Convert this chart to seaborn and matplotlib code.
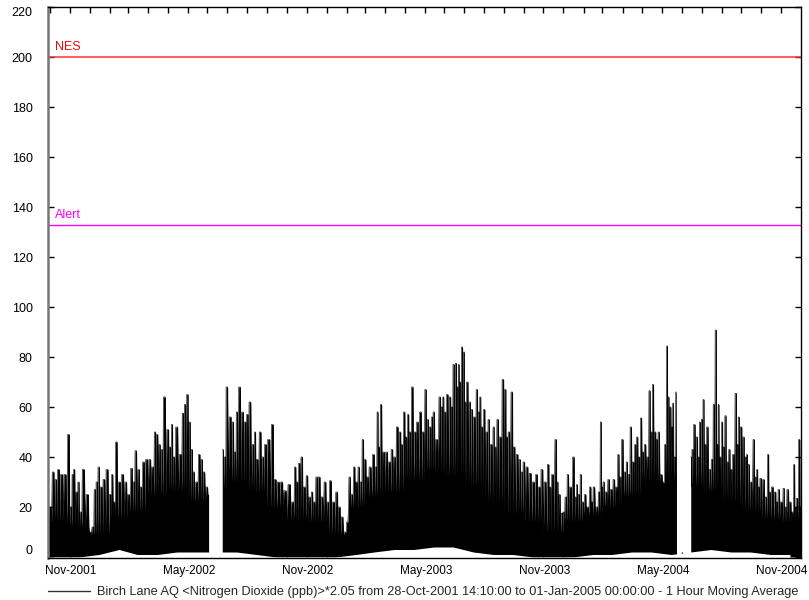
import numpy as np
import pandas as pd
import matplotlib
matplotlib.use("Agg")
import matplotlib.pyplot as plt
import matplotlib.transforms as mtransforms
from matplotlib.lines import Line2D
import seaborn as sns

# ---------------------------------------------------------------- data
series_start = pd.Timestamp("2001-10-28 14:10")
series_end = pd.Timestamp("2005-01-01 00:00")

# Hourly NO2 spikes: day offset from series start and peak value (ppb)
spike_day = [
    0, 3, 8, 12, 16, 21, 26, 32, 35, 38, 40, 44, 47, 50, 54, 61, 65, 69, 72, 75,
    78, 82, 86, 91, 96, 99, 102, 105, 110, 115, 120, 124, 129, 132, 135, 140, 143, 147, 152, 157,
    161, 165, 168, 172, 175, 179, 185, 188, 191, 194, 198, 204, 208, 211, 215, 218, 222, 224, 229, 233,
    237, 240, 245, 247,
    269, 273, 275, 281, 285, 288, 291, 295, 300, 304, 307, 311, 316, 319, 322, 327, 331, 335, 340, 346,
    350, 355, 360, 365, 372, 377, 381, 384, 387, 391, 395, 399, 403, 407, 410, 414, 418, 422, 427, 431,
    435, 440, 445, 449, 453, 458, 461, 465, 468, 472, 475, 479, 482, 485, 489, 492, 496, 502, 505, 508,
    510, 513, 517, 522, 526, 530, 534, 538, 543, 545, 549, 552, 555, 558, 561, 566, 569, 574, 578, 582,
    585, 589, 592, 594, 599, 604, 607, 609, 612, 615, 620, 622, 625, 629, 631, 633, 635, 638, 641, 643,
    646, 650, 653, 657, 661, 664, 666, 669, 672, 676, 679, 683, 687, 689, 693, 697, 701, 705, 707, 710,
    715, 718, 723, 727, 730, 733, 738, 743, 748, 753, 757, 761, 766, 771, 774, 777, 783, 785, 788, 792,
    794, 798, 801, 805, 810, 813, 815, 818, 821, 824, 828, 831, 836, 838, 841, 846, 849, 852, 854, 856,
    860, 864, 868, 872, 876, 879, 882, 885, 889, 892, 895, 898, 902, 905, 908, 911, 914, 917, 920, 924,
    927, 930, 932, 936, 938, 941, 945, 949, 951, 954, 956, 959, 962, 963, 966, 968,
    991, 993, 996, 1000, 1003, 1004, 1008, 1010, 1013, 1016, 1020, 1023, 1026, 1029, 1032, 1033, 1036, 1039, 1041, 1044,
    1047, 1050, 1053, 1056, 1060, 1063, 1064, 1068, 1072, 1075, 1077, 1080, 1083, 1088, 1090, 1093, 1095, 1098, 1103, 1106,
    1110, 1112, 1116, 1121, 1123, 1126, 1130, 1134, 1136, 1140, 1144, 1147, 1150, 1152, 1154, 1158, 1160,
]
spike_ppb = [
    23, 20, 34, 31, 35, 33, 33, 49, 20, 33, 35, 26, 30, 18, 35, 25, 10, 12, 27, 30,
    36, 28, 31, 35, 25, 33, 22, 46, 30, 33, 30, 25, 35.5, 30, 42.5, 35, 28, 38, 39, 39,
    36, 50, 49, 45, 43, 64, 51, 44, 53, 40, 52, 41, 57.5, 61, 65, 54, 43, 34, 30, 41,
    39, 34, 28, 25,
    43, 40, 68, 56, 54, 42, 58, 68, 58, 54, 57, 62, 45, 50, 39, 50, 40, 45, 47, 53,
    31, 30, 30, 26.5, 29, 22, 36, 30, 37.5, 40, 28, 32.5, 24, 26, 22, 32, 32, 24, 30, 22,
    30.5, 22, 26, 20, 16, 10, 14, 32, 25, 36, 30, 36, 30, 47, 39, 32, 36, 41, 36, 58,
    44, 61, 42, 42, 38, 43, 40, 52, 50, 45, 58, 48, 57, 50, 68, 50, 54, 58, 50, 67,
    55, 52, 56, 58, 47, 64, 60, 64, 58, 65, 64, 60, 77, 77.5, 68, 77, 70, 84, 82, 62,
    70, 62, 59, 56, 67, 58, 64, 52, 59, 50, 55, 45, 52, 44, 55, 48, 71, 67, 48, 50,
    66, 44, 41, 39, 34, 38, 36, 33.5, 30, 33, 28, 35, 30, 37, 28, 33, 47, 30, 25, 17.5,
    18, 24, 33, 28, 40, 24, 29, 25, 33, 22, 25, 20, 28, 22, 28, 20, 26, 54, 28, 30,
    26, 31, 27, 31, 28, 41, 32, 47, 34, 38, 33, 52, 38, 45, 48, 40, 55.6, 42, 45, 40,
    66.5, 50, 69, 50, 47, 50, 33, 30, 45, 84.4, 64, 60, 52, 61.5, 40, 66,
    40, 43, 53, 48, 40, 54, 55, 63, 45, 52, 35, 39, 61, 90.8, 45, 61, 40, 54, 44, 56.5,
    38, 43, 35, 41, 65.5, 45, 56, 52, 48, 40, 41, 37, 30, 47, 32, 35, 28, 31.5, 31, 24,
    41, 26, 28, 26, 22, 27, 22, 27.5, 20, 27, 22, 18, 37, 20, 23.5, 47, 20,
]

# Monitor outages end on these day offsets (line breaks)
outage_end_day = [268, 990]

# Monthly level of the dense diurnal band and the lowest hourly values (ppb)
months = pd.period_range("2001-10", "2004-12", freq="M")
band_ppb = [14, 14, 12, 9, 15, 18, 24, 26, 22, 28, 30, 26, 20, 15, 14, 9, 20, 24, 26, 30,
            34, 32, 28, 22, 17, 14, 10, 14, 17, 20, 24, 30, 30, 28, 26, 22, 18, 15, 14]
floor_ppb = [0, 0, 0, 1, 3, 1, 1, 2, 2, 2, 2, 1, 0, 0, 0, 0, 1, 2, 3, 3,
             4, 4, 2, 1, 1, 0, 0, 0, 1, 1, 2, 2, 1, 2, 3, 2, 2, 1, 1]

# Guideline levels
nes_level = 200
alert_level = 133

legend_text = ("Birch Lane AQ <Nitrogen Dioxide (ppb)>*2.05 from 28-Oct-2001 14:10:00 "
               "to 01-Jan-2005 00:00:00 - 1 Hour Moving Average")

# ------------------------------------------------- build the trace table
# Each spike keeps its peak over most of its slot and falls to the monthly
# band level at the midpoint with the next spike, leaving a thin notch.
band_of = dict(zip(months, band_ppb))
segment = np.searchsorted(outage_end_day, spike_day, side="right")
plateau = 0.3  # share of the gap held at the peak on each side
rows = []
n = len(spike_day)
for i in range(n):
    d, v, s = spike_day[i], spike_ppb[i], segment[i]
    has_prev = i > 0 and segment[i - 1] == s
    has_next = i + 1 < n and segment[i + 1] == s
    lead = plateau * (d - spike_day[i - 1]) if has_prev else 0.5
    tail = plateau * (spike_day[i + 1] - d) if has_next else 0.5
    rows.append((d - lead, v, s))
    rows.append((d + tail, v, s))
    if has_next:
        mid = (d + spike_day[i + 1]) / 2
        t = series_start + pd.Timedelta(days=mid)
        rows.append((mid, band_of[t.to_period("M")], s))
trace = pd.DataFrame(rows, columns=["day", "ppb", "segment"])
trace["time"] = series_start + pd.to_timedelta(trace["day"], unit="D")

# ---------------------------------------------------------------- plot
sns.set_theme(style="ticks")
plt.rcParams["font.family"] = ["Liberation Sans", "DejaVu Sans"]
plt.rcParams["font.size"] = 9

fig = plt.figure(figsize=(8.09, 6.0), dpi=100)
ax = fig.add_axes([48 / 809, 42 / 600, 753 / 809, 551 / 600])

for _, seg in trace.groupby("segment"):
    ax.fill_between(seg["time"], 0, seg["ppb"], color="black", lw=0, zorder=2.0)

sns.lineplot(data=trace, x="time", y="ppb", units="segment", estimator=None,
             sort=False, color="black", lw=0.4, ax=ax, zorder=2.1)

month_mid = months.to_timestamp() + pd.Timedelta(days=14)
ax.fill_between(month_mid, -1, floor_ppb, color="white", lw=0, zorder=2.2)

ax.axhline(nes_level, color="#ff3030", lw=1.1, zorder=2.3)
ax.axhline(alert_level, color="#ff00ff", lw=1.0, zorder=2.3)
ax.annotate("NES", xy=(0.009, nes_level), xycoords=("axes fraction", "data"),
            xytext=(0, 7.5), textcoords="offset points", va="center", ha="left",
            color="#ff0000", fontsize=9)
ax.annotate("Alert", xy=(0.009, alert_level), xycoords=("axes fraction", "data"),
            xytext=(0, 6.5), textcoords="offset points", va="center", ha="left",
            color="#ff00ff", fontsize=9)

ax.set_xlim(series_start, series_end)
ax.set_ylim(-0.4, 220)
ax.set_xlabel("")
ax.set_ylabel("")

yt = np.arange(0, 221, 20)
ax.set_yticks(yt, [str(v) for v in yt])
ylabels = ax.get_yticklabels()
ylabels[0].set_verticalalignment("bottom")
ylabels[-1].set_verticalalignment("top")

xt = pd.date_range("2001-11-01", "2004-12-01", freq="MS")
ax.set_xticks(xt, [t.strftime("%b-%Y") if t.month in (5, 11) else "" for t in xt])
shift = mtransforms.ScaledTranslation(-5 / 100, 0, fig.dpi_scale_trans)

ax.tick_params(axis="both", direction="in", length=4, width=1, color="black",
               labelcolor="black")
ax.tick_params(axis="x", top=True, pad=5, labelsize=8.5)
ax.tick_params(axis="y", right=True, pad=11, labelsize=9)
for lbl in ax.get_xticklabels():
    lbl.set_horizontalalignment("left")
    lbl.set_transform(lbl.get_transform() + shift)
ax.grid(False)
for side in ("top", "right", "bottom"):
    ax.spines[side].set_color("black")
    ax.spines[side].set_linewidth(1.0)
ax.spines["left"].set_color("#777777")
ax.spines["left"].set_linewidth(1.8)

handle = Line2D([], [], color="#333333", lw=1)
fig.legend([handle], [legend_text], loc="center left",
           bbox_to_anchor=(48 / 809, 1 - 592 / 600), frameon=False,
           handlelength=3.3, handletextpad=0.5, borderaxespad=0, borderpad=0,
           fontsize=9.2)

fig.savefig("out.png", dpi=100)
